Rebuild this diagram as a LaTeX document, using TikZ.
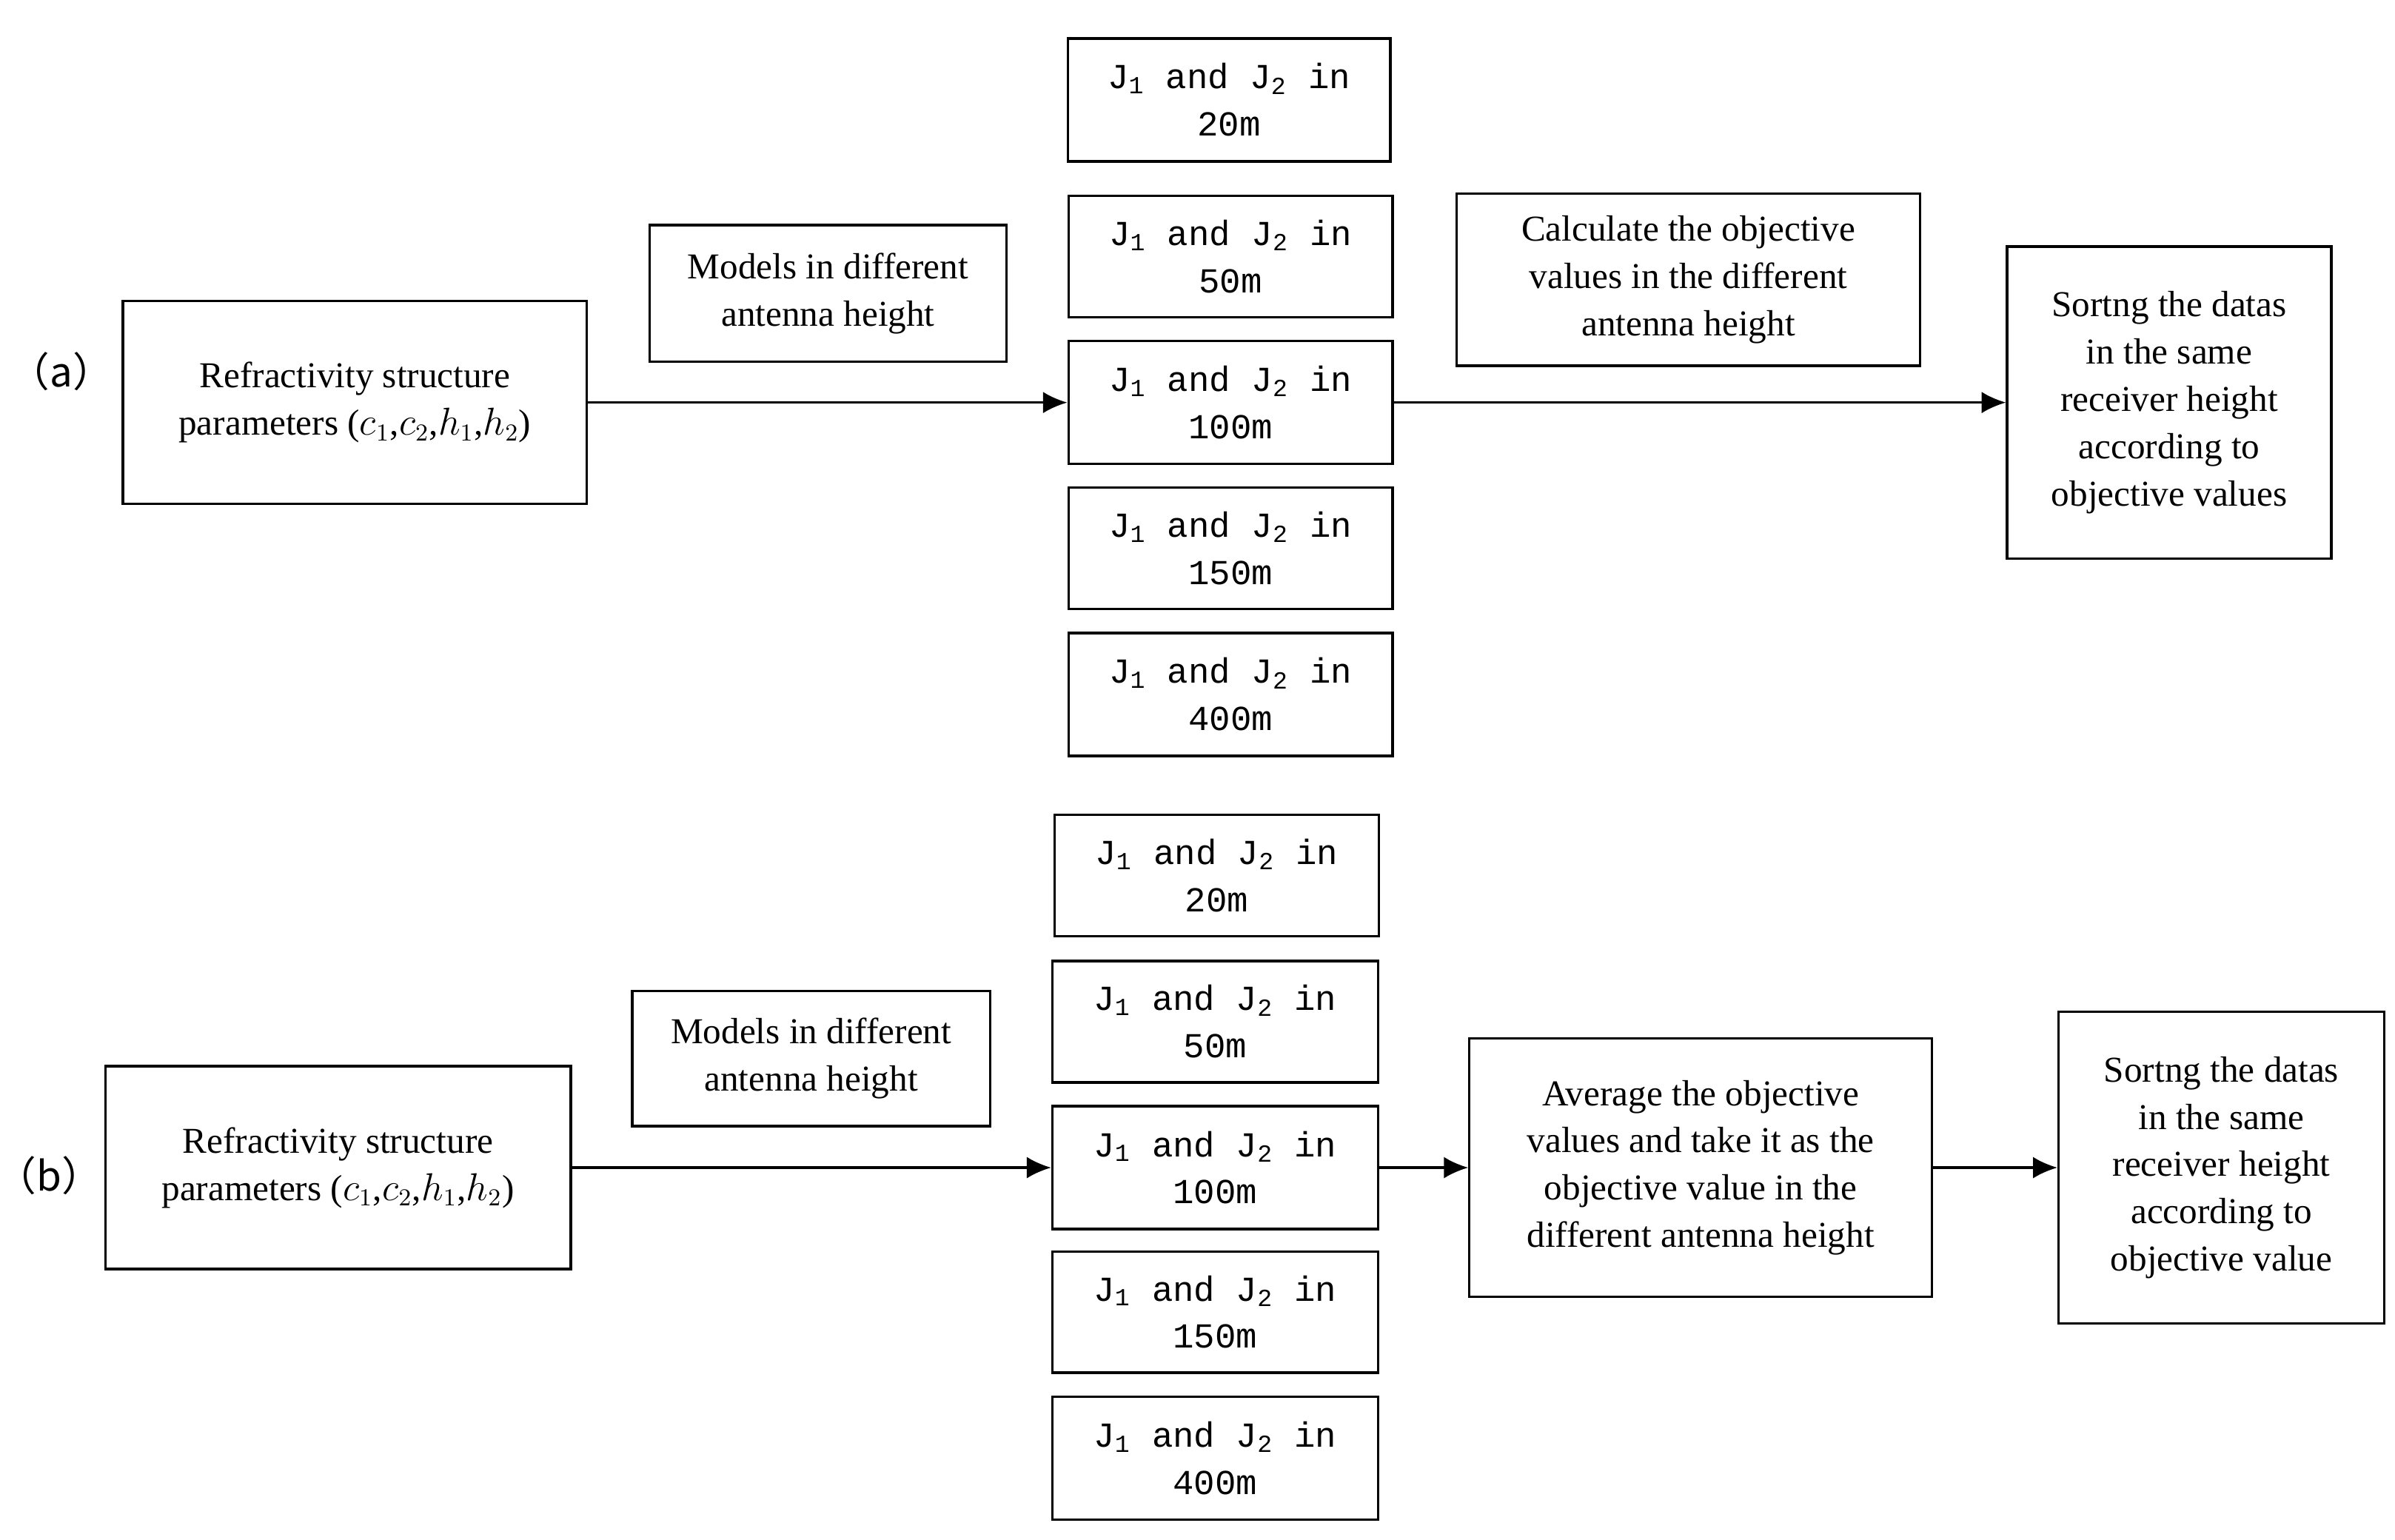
\documentclass[tikz,border=0pt]{standalone}
\usepackage{fontspec}
\setmainfont{Liberation Serif}
\setmonofont{Liberation Mono}
\newfontfamily\cjk{Noto Sans CJK SC}
\usetikzlibrary{arrows.meta}

\tikzset{
  box/.style={draw, line width=0.9pt, align=center, inner sep=0pt,
    font=\fontsize{13.5}{17.5}\selectfont},
  jbox/.style={box, font=\ttfamily\fontsize{13}{17.5}\selectfont},
  flow/.style={-{Latex[length=9pt,width=8pt]}, line width=0.9pt}
}
\newcommand{\jtext}[1]{J\textsubscript{1} and J\textsubscript{2} in\\#1}
\newcommand{\params}{Refractivity structure\\parameters ($c_1$,$c_2$,$h_1$,$h_2$)}

\begin{document}
\begin{tikzpicture}[x=0.02cm, y=-0.02cm]
  \useasboundingbox (0,0) rectangle (1559,1002);

  % part (a)
  \node at (40,242) {\fontsize{15}{18}\selectfont\cjk{（}a\cjk{）}};
  \node[box, minimum width=302*0.02cm, minimum height=132*0.02cm] (refa) at (231,262) {\params};
  \node[box, minimum width=232*0.02cm, minimum height=89*0.02cm] (moda) at (539,191) {Models in different\\antenna height};
  \node[jbox, minimum width=210*0.02cm, minimum height=80*0.02cm] (ja1) at (800,65) {\jtext{20m}};
  \node[jbox, minimum width=211*0.02cm, minimum height=79*0.02cm] (ja2) at (801,167) {\jtext{50m}};
  \node[jbox, minimum width=211*0.02cm, minimum height=80*0.02cm] (ja3) at (801,262) {\jtext{100m}};
  \node[jbox, minimum width=211*0.02cm, minimum height=79*0.02cm] (ja4) at (801,357) {\jtext{150m}};
  \node[jbox, minimum width=211*0.02cm, minimum height=80*0.02cm] (ja5) at (801,452) {\jtext{400m}};
  \node[box, minimum width=302*0.02cm, minimum height=112*0.02cm] (cala) at (1099,182) {Calculate the objective\\values in the different\\antenna height};
  \node[box, minimum width=211*0.02cm, minimum height=203*0.02cm] (sora) at (1412,262) {Sortng the datas\\in the same\\receiver height\\according to\\objective values};
  \draw[flow] (refa) -- (ja3);
  \draw[flow] (ja3) -- (sora);

  % part (b)
  \node at (32,765) {\fontsize{15}{18}\selectfont\cjk{（}b\cjk{）}};
  \node[box, minimum width=303*0.02cm, minimum height=132*0.02cm] (refb) at (220,760) {\params};
  \node[box, minimum width=233*0.02cm, minimum height=88*0.02cm] (modb) at (528,689) {Models in different\\antenna height};
  \node[jbox, minimum width=211*0.02cm, minimum height=79*0.02cm] (jb1) at (792,570) {\jtext{20m}};
  \node[jbox, minimum width=212*0.02cm, minimum height=79*0.02cm] (jb2) at (791,665) {\jtext{50m}};
  \node[jbox, minimum width=212*0.02cm, minimum height=80*0.02cm] (jb3) at (791,760) {\jtext{100m}};
  \node[jbox, minimum width=212*0.02cm, minimum height=79*0.02cm] (jb4) at (791,854) {\jtext{150m}};
  \node[jbox, minimum width=212*0.02cm, minimum height=80*0.02cm] (jb5) at (791,949) {\jtext{400m}};
  \node[box, minimum width=301*0.02cm, minimum height=168*0.02cm] (avgb) at (1107,760) {Average the objective\\values and take it as the\\objective value in the\\different antenna height};
  \node[box, minimum width=212*0.02cm, minimum height=203*0.02cm] (sorb) at (1446,760) {Sortng the datas\\in the same\\receiver height\\according to\\objective value};
  \draw[flow] (refb) -- (jb3);
  \draw[flow] (jb3) -- (avgb);
  \draw[flow] (avgb) -- (sorb);
\end{tikzpicture}
\end{document}
